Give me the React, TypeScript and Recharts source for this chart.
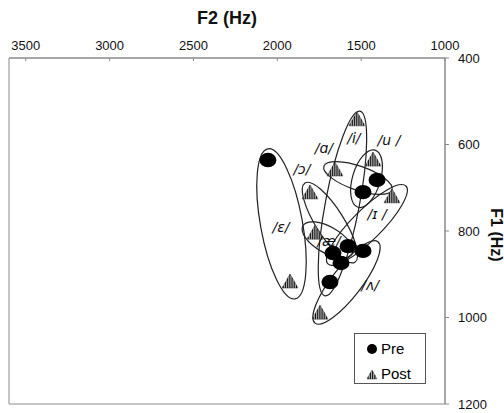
import React from 'react';
import {
  ScatterChart,
  Scatter,
  XAxis,
  YAxis,
  ReferenceLine,
  ReferenceArea,
  Legend,
} from 'recharts';

// vowel order used by every array below
const VOWELS = ['ɑ', 'i', 'u', 'ɔ', 'ɪ', 'ɛ', 'æ', 'ʌ'];

const PRE_F2 = [1405, 1686, 1489, 1668, 1578, 2056, 1620, 1489];
const PRE_F1 = [682, 918, 710, 851, 835, 636, 874, 846];

const POST_F2 = [1656, 1525, 1429, 1805, 1316, 1924, 1775, 1745];
const POST_F1 = [659, 543, 636, 712, 721, 918, 805, 990];

// ellipse outlines: the two ends of the long axis, in Hz
const ELLIPSE_F2_A = [1722, 1507, 1417, 1835, 1233, 2056, 1847, 1775];
const ELLIPSE_F1_A = [650, 523, 613, 689, 696, 610, 788, 1013];
const ELLIPSE_F2_B = [1316, 1716, 1519, 1537, 1698, 1894, 1555, 1400];
const ELLIPSE_F1_B = [705, 950, 745, 872, 876, 957, 853, 825];

// vowel label text and where it sits, in Hz
const LABEL_TEXT = ['/ɑ/', '/i/', '/u /', '/ɔ/', '/ɪ /', '/ɛ/', '/æ/', '/ʌ/'];
const LABEL_F2 = [1722, 1543, 1334, 1853, 1405, 1978, 1692, 1447];
const LABEL_F1 = [608, 585, 590, 657, 761, 791, 823, 925];

const F2_TICKS = [1000, 1500, 2000, 2500, 3000, 3500];
const F1_TICKS = [400, 600, 800, 1000, 1200];

const SERIES_NAMES = ['Pre', 'Post'];

// half thickness of each ellipse outline, in px
const ELLIPSE_HALF_WIDTH = [12, 17, 14, 14, 15, 21, 13, 15];

const preRows = VOWELS.map((v, i) => ({ vowel: v, f2: PRE_F2[i], f1: PRE_F1[i] }));
const postRows = VOWELS.map((v, i) => ({ vowel: v, f2: POST_F2[i], f1: POST_F1[i] }));
const labelRows = LABEL_TEXT.map((t, i) => ({ text: t, f2: LABEL_F2[i], f1: LABEL_F1[i] }));

const FONT = '"Liberation Sans", Arial, sans-serif';
const AXIS_COLOR = '#8a8a8a';

function PreDot({ cx, cy }: any) {
  return <ellipse cx={cx} cy={cy} rx={8.5} ry={7.2} fill="#000" />;
}

function Triangle({ cx, cy, w = 8, up = 8, down = 6 }: any) {
  const h = up + down;
  const top = cy - up;
  const base = cy + down;
  const stripes = [];
  for (let dx = -w + 1.2; dx < w; dx += 2.2) {
    const yTop = top + (Math.abs(dx) / w) * h;
    stripes.push(
      <line key={dx} x1={cx + dx} y1={yTop} x2={cx + dx} y2={base} stroke="#111" strokeWidth={1} />
    );
  }
  return (
    <g>
      <polygon
        points={`${cx},${top} ${cx - w},${base} ${cx + w},${base}`}
        fill="#aaa"
        stroke="#555"
        strokeWidth={0.6}
      />
      {stripes}
    </g>
  );
}

function PostDot({ cx, cy }: any) {
  return <Triangle cx={cx} cy={cy} />;
}

function VowelLabel({ cx, cy, payload }: any) {
  return (
    <text
      x={cx}
      y={cy}
      textAnchor="middle"
      dominantBaseline="central"
      fontSize={14}
      fontStyle="italic"
      fontFamily='"DejaVu Sans", sans-serif'
      fill="#111"
    >
      {payload.text}
    </text>
  );
}

function OutlineEllipse({ x1, y1, x2, y2, hw }: any) {
  const cx = (x1 + x2) / 2;
  const cy = (y1 + y2) / 2;
  const rx = Math.hypot(x2 - x1, y2 - y1) / 2;
  const angle = (Math.atan2(y2 - y1, x2 - x1) * 180) / Math.PI;
  return (
    <ellipse
      cx={cx}
      cy={cy}
      rx={rx}
      ry={hw}
      transform={`rotate(${angle} ${cx} ${cy})`}
      fill="none"
      stroke="#222"
      strokeWidth={1.2}
    />
  );
}

function TopTick({ x, y, payload }: any) {
  return (
    <g>
      <line x1={x} y1={y} x2={x} y2={y + 3} stroke={AXIS_COLOR} />
      <text x={x} y={y - 8} textAnchor="middle" fontSize={13} fontFamily={FONT} fill="#111">
        {payload.value}
      </text>
    </g>
  );
}

function RightTick({ x, y, payload }: any) {
  return (
    <g>
      <line x1={x} y1={y} x2={x + 4} y2={y} stroke={AXIS_COLOR} />
      <text x={x + 13} y={y + 4.5} textAnchor="start" fontSize={13} fontFamily={FONT} fill="#111">
        {payload.value}
      </text>
    </g>
  );
}

function LegendBox() {
  return (
    <div
      style={{
        position: 'relative',
        width: 72,
        height: 51,
        boxSizing: 'border-box',
        border: '1px solid #555',
        background: '#fff',
        fontFamily: FONT,
        fontSize: 15,
        color: '#000',
      }}
    >
      {SERIES_NAMES.map((name, i) => (
        <div
          key={name}
          style={{ position: 'absolute', left: 0, top: 6 + i * 25, height: 18, display: 'flex', alignItems: 'center' }}
        >
          <svg width={26} height={18}>
            {i === 0 ? (
              <circle cx={17} cy={9} r={5} fill="#000" />
            ) : (
              <Triangle cx={17} cy={10} w={5} up={5} down={4} />
            )}
          </svg>
          <span style={{ lineHeight: '18px' }}>{name}</span>
        </div>
      ))}
    </div>
  );
}

export default function App() {
  return (
    <div style={{ width: 504, height: 413, background: '#fff' }}>
      <style>{'body{margin:0}'}</style>
      <ScatterChart width={504} height={413} margin={{ top: 28, right: 0, bottom: 9, left: 9 }}>
        <XAxis
          type="number"
          dataKey="f2"
          orientation="top"
          domain={[1000, 3600]}
          reversed
          ticks={F2_TICKS}
          interval={0}
          height={30}
          tickSize={0}
          tickMargin={0}
          tick={<TopTick />}
          stroke={AXIS_COLOR}
          label={{
            value: 'F2 (Hz)',
            content: (p: any) => {
              const vb = p.viewBox;
              return (
                <text
                  x={vb.x + vb.width / 2}
                  y={vb.y - 4}
                  textAnchor="middle"
                  fontSize={18}
                  fontWeight="bold"
                  fontFamily={FONT}
                  fill="#111"
                >
                  F2 (Hz)
                </text>
              );
            },
          }}
        />
        <YAxis
          type="number"
          dataKey="f1"
          orientation="right"
          domain={[400, 1200]}
          reversed
          ticks={F1_TICKS}
          interval={0}
          width={59}
          tickSize={0}
          tickMargin={0}
          tick={<RightTick />}
          stroke={AXIS_COLOR}
          label={{
            value: 'F1 (Hz)',
            content: (p: any) => {
              const vb = p.viewBox;
              const x = vb.x + vb.width - 8;
              const y = vb.y + vb.height / 2 + 4;
              return (
                <text
                  x={x}
                  y={y}
                  transform={`rotate(90 ${x} ${y})`}
                  textAnchor="middle"
                  dominantBaseline="central"
                  fontSize={16}
                  fontWeight="bold"
                  fontFamily={FONT}
                  fill="#111"
                >
                  F1 (Hz)
                </text>
              );
            },
          }}
        />
        <ReferenceArea x1={1000} x2={3600} y1={400} y2={1200} fill="none" stroke={AXIS_COLOR} />
        <Scatter name="Post" data={postRows} shape={PostDot} isAnimationActive={false} />
        <Scatter name="Pre" data={preRows} shape={PreDot} isAnimationActive={false} />
        {VOWELS.map((v, i) => (
          <ReferenceLine
            key={v}
            segment={[
              { x: ELLIPSE_F2_A[i], y: ELLIPSE_F1_A[i] },
              { x: ELLIPSE_F2_B[i], y: ELLIPSE_F1_B[i] },
            ]}
            ifOverflow="visible"
            shape={(p: any) => <OutlineEllipse {...p} hw={ELLIPSE_HALF_WIDTH[i]} />}
          />
        ))}
        <Scatter name="labels" data={labelRows} shape={VowelLabel} legendType="none" isAnimationActive={false} />
        <Legend
          layout="vertical"
          align="center"
          verticalAlign="middle"
          content={<LegendBox />}
          wrapperStyle={{ left: 354, top: 333, width: 72, height: 51 }}
        />
      </ScatterChart>
    </div>
  );
}
